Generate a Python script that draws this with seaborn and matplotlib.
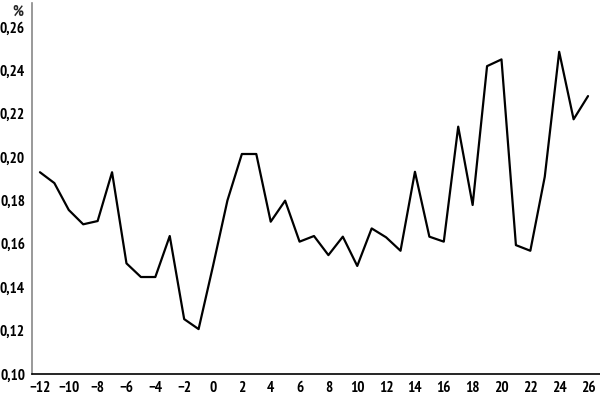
import matplotlib
matplotlib.use("Agg")
import matplotlib.pyplot as plt
import seaborn as sns
import pandas as pd
from matplotlib.ticker import FuncFormatter, FixedLocator

months = list(range(-12, 27))
values = [0.193, 0.188, 0.1756, 0.169, 0.1705, 0.193, 0.151, 0.1447, 0.1447, 0.1636,
          0.1253, 0.1207, 0.1498, 0.180, 0.2014, 0.2014, 0.1702, 0.1799, 0.161, 0.1636,
          0.1548, 0.1633, 0.1498, 0.1671, 0.163, 0.1568, 0.1932, 0.1633, 0.161, 0.214,
          0.1779, 0.2419, 0.245, 0.1594, 0.1568, 0.1909, 0.2485, 0.2174, 0.2281]
x_ticks = list(range(-12, 27, 2))
y_ticks = [0.10, 0.12, 0.14, 0.16, 0.18, 0.20, 0.22, 0.24, 0.26]
y_unit = "%"

df = pd.DataFrame({"month": months, "value": values})

sns.set_theme(style="white")
plt.rcParams["font.family"] = ["PT Sans Narrow", "DejaVu Sans"]
plt.rcParams["axes.unicode_minus"] = True

fig = plt.figure(figsize=(6, 3.96), dpi=100)
ax = fig.add_axes([32/600, 22/396, 568/600, 371/396])
sns.lineplot(data=df, x="month", y="value", ax=ax, color="black", linewidth=1.6)

ax.set_xlim(-12.55, 26.83)
ax.set_ylim(0.10, 0.271)
ax.xaxis.set_major_locator(FixedLocator(x_ticks))
ax.yaxis.set_major_locator(FixedLocator(y_ticks))
ax.yaxis.set_major_formatter(FuncFormatter(lambda v, p: f"{v:.2f}".replace(".", ",")))
ax.xaxis.set_major_formatter(FuncFormatter(lambda v, p: f"{int(v)}".replace("-", "\u2212")))
ax.tick_params(axis="both", length=0, labelsize=11, colors="black")
ax.tick_params(axis="y", pad=5)
ax.tick_params(axis="x", pad=5)
for lbl in ax.get_xticklabels() + ax.get_yticklabels():
    lbl.set_fontweight("bold")
ax.set_xlabel("")
ax.set_ylabel("")
ax.spines["top"].set_visible(False)
ax.spines["right"].set_visible(False)
ax.spines["left"].set_color("#888888")
ax.spines["left"].set_linewidth(1.2)
ax.spines["bottom"].set_color("black")
ax.spines["bottom"].set_linewidth(1.2)
ax.text(-0.015, 0.995, y_unit, transform=ax.transAxes, ha="right", va="top",
        fontsize=11, fontweight="bold")

fig.savefig("out.png", dpi=100)
